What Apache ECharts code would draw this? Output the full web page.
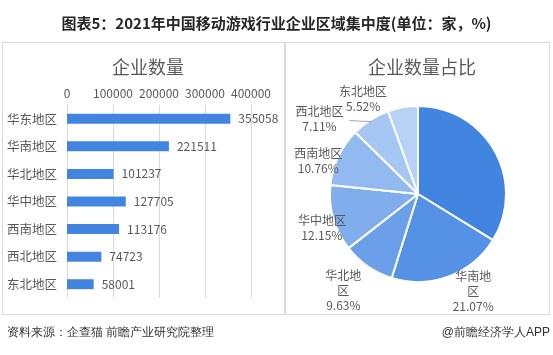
<!DOCTYPE html>
<html><head><meta charset="utf-8">
<script src="https://cdn.jsdelivr.net/npm/echarts@6/dist/echarts.min.js"></script>
<style>html,body{margin:0;padding:0;background:#fff}#c{width:553px;height:355px}</style>
</head><body><div id="c"></div>
<script>
var regions = ['华东地区','华南地区','华北地区','华中地区','西南地区','西北地区','东北地区'];
var counts = [355058, 221511, 101237, 127705, 113176, 74723, 58001];
var pieNames = ['华东地区','华南地区','华北地区','华中地区','西南地区','西北地区','东北地区'];
var pieLabels = ['华东地区','华南地\n区','华北地\n区','华中地区','西南地区','西北地区','东北地区'];
var shares = [33.77, 21.07, 9.63, 12.15, 10.76, 7.11, 5.52];
var xTicks = [0, 100000, 200000, 300000, 400000];

var pieColors = ['#4185e0','#5592e6','#6b9fe9','#80adec','#93baf0','#a6c7f3','#b7d2f6'];
// label placement tweaks (angle offset in degrees, radius in px)
var labelAdj = [[0,109],[-9,112],[3,122],[-3.5,102],[-7,105],[-20,124],[-20,110]];
var PCX = 418, PCY = 194, PR = 88;

var font = '"Noto Sans CJK SC","Microsoft YaHei",sans-serif';
var chart = echarts.init(document.getElementById('c'), null, {renderer:'canvas'});

var total = shares.reduce(function(a,b){return a+b;},0);
var midAngles = [];
(function(){var acc=0;for(var i=0;i<shares.length;i++){midAngles.push((acc+shares[i]/2)/total*360);acc+=shares[i];}})();

// leader line for the 西北 slice label
var nwA = midAngles[5]*Math.PI/180;
var nwEnd = [PCX+(PR-2)*Math.sin(nwA), PCY-(PR-2)*Math.cos(nwA)];

chart.setOption({
  backgroundColor:'#fff',
  animation:false,
  textStyle:{fontFamily:font},
  title:[
    {text:'图表5：2021年中国移动游戏行业企业区域集中度(单位：家，%)',left:'center',top:11,
     textStyle:{fontSize:15,fontWeight:'bold',color:'#262626',fontFamily:font}},
    {text:'企业数量',left:143,top:53,textAlign:'center',textStyle:{fontSize:18,fontWeight:'normal',color:'#595959',fontFamily:font}},
    {text:'企业数量占比',left:417,top:53,textAlign:'center',textStyle:{fontSize:18,fontWeight:'normal',color:'#595959',fontFamily:font}}
  ],
  graphic:[
    {type:'rect',shape:{x:2.5,y:42.5,width:282,height:272},style:{fill:'none',stroke:'#d9d9d9',lineWidth:1},z:-1},
    {type:'rect',shape:{x:285.5,y:42.5,width:264,height:272},style:{fill:'none',stroke:'#d9d9d9',lineWidth:1},z:-1},
    {type:'line',shape:{x1:nwEnd[0]-22,y1:nwEnd[1]-1,x2:nwEnd[0],y2:nwEnd[1]},style:{stroke:'#a6a6a6',lineWidth:1},z:100},
    {type:'text',left:7,top:327,style:{text:'资料来源：企查猫 前瞻产业研究院整理',fontSize:12,fill:'#333',font:'12px '+font}},
    {type:'text',right:3,top:327,style:{text:'@前瞻经济学人APP',fontSize:12,fill:'#333',font:'12px '+font}}
  ],
  grid:{left:67,top:105,width:184,height:193,containLabel:false},
  xAxis:{type:'value',position:'top',min:0,max:400000,interval:100000,
    axisLine:{show:false},axisTick:{show:false},
    axisLabel:{color:'#595959',fontSize:12,margin:6,fontFamily:font,
      formatter:function(v){return xTicks.indexOf(v)>=0?String(v):'';}},
    splitLine:{show:true,lineStyle:{color:'#d9d9d9',width:1}}},
  yAxis:{type:'category',data:regions,inverse:true,
    axisLine:{show:false},axisTick:{show:false},
    axisLabel:{color:'#595959',fontSize:12.5,margin:10,fontFamily:font}},
  series:[
    {type:'bar',data:counts,barWidth:10,itemStyle:{color:'#4185e0'},
     label:{show:true,position:'right',distance:8,color:'#595959',fontSize:12,fontFamily:font}},
    {type:'pie',center:[PCX,PCY],radius:[0,PR],startAngle:90,clockwise:true,
     data:pieNames.map(function(n,i){return {name:n,value:shares[i],itemStyle:{color:pieColors[i]}};}),
     itemStyle:{borderColor:'#fff',borderWidth:2},
     label:{show:true,position:'outside',color:'#595959',fontSize:12,lineHeight:15,align:'center',fontFamily:font,
       formatter:function(p){return pieLabels[p.dataIndex]+'\n'+shares[p.dataIndex].toFixed(2)+'%';}},
     labelLine:{show:false},
     labelLayout:function(p){
       var i=p.dataIndex;var a=(midAngles[i]+labelAdj[i][0])*Math.PI/180;var r=labelAdj[i][1];
       return {x:PCX+r*Math.sin(a),y:PCY-r*Math.cos(a),align:'center',verticalAlign:'middle'};
     }}
  ]
});
</script></body></html>
